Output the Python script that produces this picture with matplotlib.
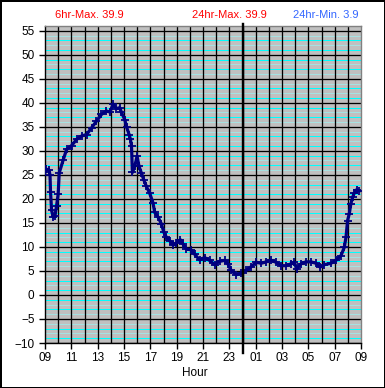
import matplotlib
matplotlib.use("Agg")
import matplotlib.pyplot as plt
import numpy as np

plt.rcParams['font.family'] = ['Liberation Sans', 'DejaVu Sans']

# hours since 09:00
hours = [0.0, 0.1, 0.3, 0.38, 0.42, 0.5, 0.63, 0.76, 0.88, 1.0, 1.08, 1.39, 1.64, 2.02,
         2.4, 2.78, 3.16, 3.54, 3.91, 4.29, 4.67, 4.92, 5.18, 5.43, 5.68, 5.81, 6.06,
         6.19, 6.39, 6.49, 6.57, 6.64, 6.82, 6.99, 7.14, 7.32, 7.5, 7.7, 7.95, 8.2,
         8.33, 8.59, 8.84, 9.02, 9.22, 9.47, 9.72, 9.97, 10.28, 10.48, 10.73, 11.11,
         11.36, 11.74, 12.12, 12.5, 12.88, 13.26, 13.64, 13.89, 14.14, 14.52, 14.9,
         15.28, 15.66, 16.04, 16.42, 16.8, 17.17, 17.55, 17.93, 18.31, 18.69, 18.94,
         19.12, 19.45, 19.82, 20.2, 20.58, 20.89, 21.21, 21.72, 22.1, 22.48, 22.73,
         22.86, 22.98, 23.11, 23.23, 23.36, 23.48, 23.66, 23.86]
temps = [25.5, 26.2, 26.0, 25.0, 21.5, 17.6, 16.2, 16.5, 18.6, 21.0, 25.4, 28.2, 30.3, 31.1,
         32.4, 33.1, 33.4, 34.8, 36.2, 37.6, 38.3, 38.1, 39.7, 38.8, 39.0, 38.0, 36.5,
         35.0, 33.4, 32.4, 31.0, 25.5, 26.8, 28.9, 26.8, 25.4, 24.0, 22.6, 21.2, 19.2,
         17.2, 16.2, 14.8, 13.1, 12.0, 11.3, 10.4, 10.8, 11.5, 10.6, 9.6, 9.4,
         8.5, 7.3, 7.8, 7.2, 6.3, 7.0, 7.2, 6.5, 5.1, 4.2, 4.5,
         5.1, 5.9, 6.8, 6.6, 6.9, 7.2, 6.8, 6.1, 6.1, 6.5, 6.8,
         5.4, 6.5, 6.9, 6.9, 6.6, 5.8, 6.3, 6.6, 7.2, 8.2, 9.9,
         12.0, 15.5, 16.9, 19.0, 20.3, 21.2, 21.9, 21.7]

xtick_pos = list(range(0, 25, 2))
xtick_labels = ["09", "11", "13", "15", "17", "19", "21", "23", "01", "03", "05", "07", "09"]
yticks = list(range(-10, 56, 5))
title_texts = ["6hr-Max. 39.9", "24hr-Max. 39.9", "24hr-Min. 3.9"]
title_colors = ["#ff0000", "#ff0000", "#3366ff"]
midnight = 15

W, H = 385, 388
fig = plt.figure(figsize=(W / 100, H / 100), dpi=100)
fig.patch.set_facecolor("white")
fig.patch.set_edgecolor("black")
fig.patch.set_linewidth(2)

L, R, T, B = 45, 361, 26, 343
ax = fig.add_axes([L / W, (H - B) / H, (R - L) / W, (B - T) / H])
ax.set_facecolor("#c0c0c0")
ax.set_xlim(0, 24)
ax.set_ylim(-10, 56)

px = 0.72  # one pixel in points
# minor horizontal lines: every degree, bright cyan at odd values
for v in range(-9, 56):
    if v % 5 == 0:
        continue
    col = "#00ffff" if v % 2 else "#a6e2e2"
    ax.axhline(v, color=col, lw=px, zorder=1, antialiased=False)
# major horizontal lines
for yv in yticks:
    ax.axhline(yv, color="black", lw=1.3 * px, zorder=2)
# vertical hour lines
for h in range(1, 24):
    ax.axvline(h, color="black", lw=1.3 * px, zorder=2)

ax.plot(hours, temps, color="#000080", lw=2.3, marker="+", ms=5.5, mew=1.3, zorder=5)

# midnight line
ax.axvline(midnight, ymin=-10 / (B - T), ymax=1 + 2 / (B - T), color="black", lw=2.4 * px,
           clip_on=False, zorder=6)

ax.set_xticks(xtick_pos)
ax.set_xticklabels(xtick_labels)
ax.set_yticks(yticks)
ax.tick_params(axis="both", direction="out", length=4, width=1, colors="black", labelsize=8.5)
ax.tick_params(axis="x", pad=2.5)
ax.tick_params(axis="y", pad=3.5)
for s in ["left", "bottom"]:
    ax.spines[s].set_color("black")
    ax.spines[s].set_linewidth(1.0)
for s in ["top", "right"]:
    ax.spines[s].set_color("#808080")
    ax.spines[s].set_linewidth(1.0)

fig.text(195 / W, 1 - 373 / H, "Hour", ha="center", va="center", fontsize=8.5)
for x0, txt, col in zip([55, 192, 293], title_texts, title_colors):
    fig.text(x0 / W, 1 - 15 / H, txt, ha="left", va="center", fontsize=8, color=col)

fig.savefig("out.png", dpi=100)
